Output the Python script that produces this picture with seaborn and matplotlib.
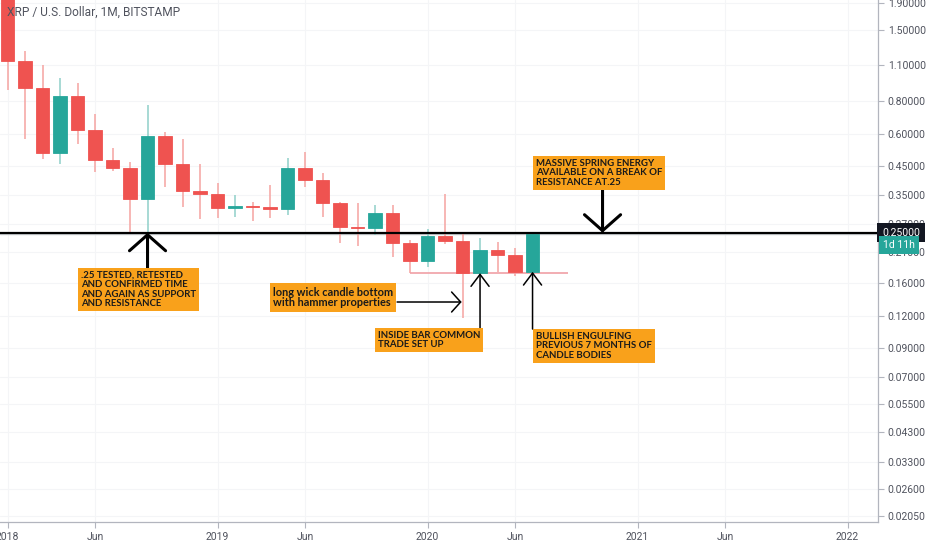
import numpy as np
import pandas as pd
import matplotlib
matplotlib.use("Agg")
import matplotlib.pyplot as plt
import matplotlib.transforms as mtransforms
from matplotlib.ticker import FixedLocator, FixedFormatter, NullLocator
import seaborn as sns

# monthly XRP/USD candles, Jan 2018 .. Jul 2020
months = pd.date_range("2018-01-01", "2020-07-01", freq="MS")
opens = [2.30, 1.14, 0.90, 0.505, 0.836, 0.619, 0.475, 0.443, 0.337, 0.587, 0.459, 0.361,
         0.352, 0.311, 0.316, 0.313, 0.308, 0.443, 0.398, 0.325, 0.263, 0.260, 0.298, 0.228,
         0.195, 0.243, 0.232, 0.175, 0.2147, 0.2054, 0.177]
highs = [3.30, 1.24, 1.10, 0.98, 0.94, 0.713, 0.528, 0.467, 0.772, 0.608, 0.572, 0.459,
         0.388, 0.349, 0.328, 0.381, 0.484, 0.510, 0.424, 0.327, 0.325, 0.319, 0.319, 0.2345,
         0.258, 0.352, 0.250, 0.2385, 0.230, 0.2185, 0.250]
lows = [0.88, 0.57, 0.48, 0.46, 0.547, 0.427, 0.431, 0.250, 0.250, 0.374, 0.314, 0.282,
        0.285, 0.287, 0.277, 0.285, 0.292, 0.374, 0.287, 0.228, 0.223, 0.245, 0.202, 0.175,
        0.185, 0.226, 0.118, 0.175, 0.177, 0.1706, 0.177]
closes = [1.14, 0.90, 0.505, 0.836, 0.619, 0.475, 0.443, 0.337, 0.587, 0.459, 0.361, 0.352,
          0.311, 0.316, 0.313, 0.308, 0.443, 0.398, 0.325, 0.263, 0.260, 0.298, 0.228, 0.195,
          0.243, 0.232, 0.175, 0.2147, 0.2054, 0.177, 0.247]

price_ticks = [1.9, 1.5, 1.1, 0.8, 0.6, 0.45, 0.35, 0.27, 0.21, 0.16, 0.12, 0.09, 0.07,
               0.055, 0.043, 0.033, 0.026, 0.0205]
time_ticks = ["2018-01", "2018-06", "2019-01", "2019-06", "2020-01", "2020-06",
              "2021-01", "2021-06", "2022-01"]
time_labels = ["2018", "Jun", "2019", "Jun", "2020", "Jun", "2021", "Jun", "2022"]

resistance = 0.25
support_from, support_to = "2019-12", "2020-09"

notes = [
    ".25 TESTED, RETESTED\nAND CONFIRMED TIME\nAND AGAIN AS SUPPORT\nAND RESISTANCE",
    "long wick candle bottom\nwith hammer properties",
    "INSIDE BAR COMMON\nTRADE SET UP",
    "BULLISH ENGULFING\nPREVIOUS 7 MONTHS OF\nCANDLE BODIES",
    "MASSIVE SPRING ENERGY\nAVAILABLE ON A BREAK OF\nRESISTANCE AT.25",
]


def month_idx(s):
    t = pd.Timestamp(s)
    return (t.year - 2018) * 12 + t.month - 1


df = pd.DataFrame({"date": months, "open": opens, "high": highs, "low": lows, "close": closes})
df["x"] = [month_idx(d) for d in df["date"]]
df["up"] = df["close"] >= df["open"]

UP, DOWN = "#26a69a", "#ef5350"
UP_W, DOWN_W = "#8fd0c9", "#f5a3a1"

sns.set_theme(style="white")
plt.rcParams["font.family"] = ["Roboto", "DejaVu Sans"]

fig = plt.figure(figsize=(9.32, 5.5), dpi=100)
ax = fig.add_axes([0, 0.0509, 878 / 932, 1 - 0.0509])

# wicks then bodies
for up, grp in df.groupby("up"):
    ax.vlines(grp["x"], grp["low"], grp["high"], color=UP_W if up else DOWN_W, lw=1.1, zorder=2)
    bottom = np.minimum(grp["open"], grp["close"])
    height = np.abs(grp["close"] - grp["open"])
    ax.bar(grp["x"], height, bottom=bottom, width=0.78, color=UP if up else DOWN,
           edgecolor=UP if up else DOWN, lw=0.6, zorder=3)

ax.set_yscale("log")
ax.set_ylim(0.01944, 1.951)
ax.set_xlim(-0.43, 49.74)

# support / resistance / last price lines
ax.axhline(closes[-1], color="#c9cdd0", lw=1, zorder=1)
ax.axhline(resistance, color="black", lw=1.6, zorder=4)
ax.hlines(lows[month_idx("2019-12")], month_idx(support_from), month_idx(support_to),
          color="#f0a0a6", lw=1.2, zorder=2)

# axes styling
ax.yaxis.tick_right()
ax.yaxis.set_major_locator(FixedLocator(price_ticks))
ax.yaxis.set_major_formatter(FixedFormatter([f"{v:.5f}" for v in price_ticks]))
ax.yaxis.set_minor_locator(NullLocator())
ax.xaxis.set_major_locator(FixedLocator([month_idx(t) for t in time_ticks]))
ax.xaxis.set_major_formatter(FixedFormatter(time_labels))
ax.tick_params(axis="y", length=4, width=0.8, color="#b2b5be", labelcolor="#50535e",
               labelsize=7.5, pad=3, right=True, left=False)
ax.tick_params(axis="x", length=4, width=0.8, color="#b2b5be", labelcolor="#50535e",
               labelsize=7.5, pad=3, bottom=True)
for side in ["top", "left"]:
    ax.spines[side].set_visible(False)
for side in ["right", "bottom"]:
    ax.spines[side].set_color("#b2b5be")
    ax.spines[side].set_linewidth(0.9)
ax.grid(True, color="#f4f5f7", lw=0.8, zorder=0)
ax.set_axisbelow(True)

ax.text(0.008, 0.988, "XRP / U.S. Dollar, 1M, BITSTAMP", transform=ax.transAxes,
        ha="left", va="top", fontsize=8.6, color="#50535e", zorder=8)

# right-axis price labels
trans = mtransforms.blended_transform_factory(ax.transAxes, ax.transData)
ax.text(1.0 + 4 / 878, resistance, "0.25000", transform=trans, ha="left", va="center",
        color="white", fontsize=7.5, clip_on=False, zorder=10,
        bbox=dict(boxstyle="square,pad=0.45", fc="#131722", ec="none"))
ax.annotate("1d 11h", xy=(1.0, closes[-1]), xycoords=trans, xytext=(3.5, -8),
            textcoords="offset points", ha="left", va="center", color="white", fontsize=7.5,
            annotation_clip=False, zorder=10,
            bbox=dict(boxstyle="square,pad=0.4", fc=UP, ec="none"))


def note(text, x, y, size=6.9, spacing=1.05):
    ax.text(x, y, text, ha="left", va="top", fontsize=size, fontweight="bold",
            family=["Lato", "DejaVu Sans"], color="#1a1a1a", linespacing=spacing, zorder=7,
            bbox=dict(boxstyle="square,pad=0.3", fc="#f9a11b", ec="none"))


def arrow(tail, tip, lw, hl, hw):
    ax.annotate("", xy=tip, xytext=tail, zorder=6,
                arrowprops=dict(arrowstyle=f"->,head_length={hl},head_width={hw}", lw=lw,
                                color="black", shrinkA=0, shrinkB=0, mutation_scale=10))


sep18, mar20, apr20, jul20, nov20 = (month_idx(s) for s in
                                     ["2018-09", "2020-03", "2020-04", "2020-07", "2020-11"])

note(notes[0], 4.2, 0.1783)
arrow((sep18, 0.1806), (sep18, resistance), 2.2, 1.15, 1.3)

note(notes[1], 15.17, 0.1552, size=7.9, spacing=0.95)
arrow((22.26, 0.1356), (mar20 - 0.05, 0.1356), 1.1, 0.65, 0.72)

note(notes[2], 21.17, 0.1050)
arrow((apr20, 0.1078), (apr20, lows[apr20]), 1.1, 0.86, 0.65)

note(notes[3], 30.2, 0.1041)
arrow((jul20, 0.1068), (jul20, lows[jul20]), 1.1, 0.86, 0.65)

note(notes[4], 30.2, 0.4793)
arrow((nov20, 0.3646), (nov20, resistance), 2.2, 1.15, 1.3)

fig.savefig("out.png", dpi=100)
